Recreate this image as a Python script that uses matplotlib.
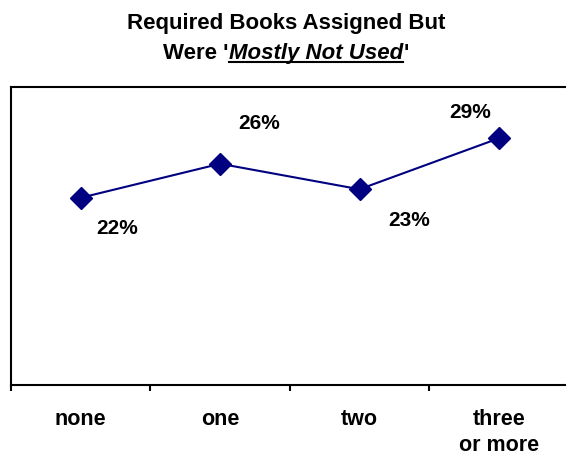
import matplotlib.pyplot as plt
from matplotlib.lines import Line2D

plt.rcParams.update({"font.family": ["Liberation Sans", "DejaVu Sans"], "font.weight": "bold"})

# data
categories = ["none", "one", "two", "three\nor more"]
values = [22, 26, 23, 29]
labels = ["22%", "26%", "23%", "29%"]
# label offsets in points (dx, dy)
offsets = [(26, -21.5), (28, 29.5), (36, -21.5), (-20.5, 19.5)]

W, H = 566, 456
fig = plt.figure(figsize=(W / 100, H / 100), dpi=100)
# plot box; its right side runs just past the edge of the figure
ax = fig.add_axes([11 / W, (H - 385.7) / H, 557.6 / W, 297.4 / H])

ax.plot(range(len(values)), values, color="#000080", linewidth=1.5,
        marker="D", markersize=11, clip_on=False)
for i, (v, lab, off) in enumerate(zip(values, labels, offsets)):
    ax.annotate(lab, (i, v), xytext=off, textcoords="offset points",
                ha="center", va="center", fontsize=15, fontweight="bold")

ax.set_xlim(-0.5, 3.5)
ax.set_ylim(0, 35)
ax.set_yticks([])
ax.set_xticks([-0.5, 0.5, 1.5, 2.5])
ax.set_xticklabels([])
ax.set_xticks(range(len(categories)), minor=True)
ax.set_xticklabels(categories, minor=True, fontsize=15.5, fontweight="bold", linespacing=1.3)
ax.tick_params(axis="x", which="major", length=4.5, width=1.5, direction="out")
ax.tick_params(axis="x", which="minor", length=0, pad=17)
for s in ax.spines.values():
    s.set_linewidth(1.5)

# title; second line built from pieces so the middle can be italic + underlined
cx = 286
fig.text(cx / W, 1 - 29 / H, "Required Books Assigned But", ha="center", va="baseline",
         fontsize=16, fontweight="bold")
r = fig.canvas.get_renderer()
parts = [("Were '", "normal"), ("Mostly Not Used", "italic"), ("'", "normal")]
texts = [fig.text(0, 1 - 59 / H, p, ha="left", va="baseline", fontsize=16,
                  fontweight="bold", style=st) for p, st in parts]
widths = [t.get_window_extent(r).width for t in texts]
widths[1] += 0.5
x = cx - sum(widths) / 2
starts = []
for t, w in zip(texts, widths):
    t.set_x(x / W)
    starts.append(x)
    x += w
fig.add_artist(Line2D([starts[1] / W, (starts[1] + widths[1]) / W], [1 - 63 / H] * 2,
                      color="black", linewidth=1.5))

plt.savefig("out.png", dpi=100)
